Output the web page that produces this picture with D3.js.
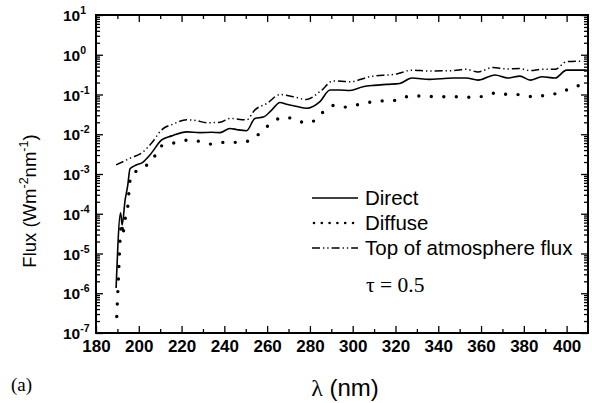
<!DOCTYPE html>
<html>
<head>
<meta charset="utf-8">
<script src="https://cdn.jsdelivr.net/npm/d3@7"></script>
<style>
  body { margin: 0; background: #fff; }
  svg { display: block; }
  .axis text { font-family: "Liberation Sans", Arial, sans-serif; font-weight: bold; fill: #000; }
  .axis path, .axis line { stroke: #000; }
</style>
</head>
<body>
<div id="chart"></div>
<script>
// wavelength (nm) / flux (W m-2 nm-1)
const directLambda = [189.4, 191.5, 192.2, 193.6, 194.8, 195.9, 198, 202, 205.2, 210.7, 215.4, 222.4, 228.6, 234, 238, 242.6, 246, 250.4, 254.3, 258.2, 262, 266, 269.1, 274, 278.5, 284.7, 289.4, 294, 298.7, 304.8, 310, 315.9, 322, 327.6, 336, 341, 347, 353, 358.6, 366.5, 372.6, 378.2, 383, 388.4, 394.6, 400, 409.4];
const directFlux = [1.35e-6, 1.05e-4, 5.2e-5, 2.2e-4, 5e-4, 1.35e-3, 1.6e-3, 2.0e-3, 3e-3, 7.2e-3, 9.1e-3, 0.0115, 0.011, 0.0112, 0.011, 0.014, 0.013, 0.0123, 0.025, 0.027, 0.04, 0.063, 0.057, 0.05, 0.045, 0.066, 0.13, 0.13, 0.126, 0.157, 0.17, 0.18, 0.19, 0.26, 0.24, 0.25, 0.26, 0.26, 0.23, 0.31, 0.26, 0.29, 0.23, 0.28, 0.26, 0.41, 0.41];

const diffuseLambda = [189.7, 190.5, 191.3, 192.0, 192.6, 193.2, 194.6, 195.6, 196.3, 201.8, 207.1, 209.9, 217.7, 224, 234.8, 241, 247.3, 252.8, 257.9, 262.9, 268.8, 274.6, 280, 285.5, 291.7, 297.2, 303.4, 309.6, 315.9, 321.3, 326.8, 333, 338.5, 344.7, 350.2, 356, 361.9, 367.6, 373.5, 379.3, 385.2, 391.2, 397, 402.9, 408];
const diffuseFlux = [2.6e-7, 2.5e-6, 2.5e-5, 6e-5, 2.8e-5, 6e-5, 1.1e-4, 4.7e-4, 9.4e-4, 1.4e-3, 2.6e-3, 4.9e-3, 6.2e-3, 7.2e-3, 5.6e-3, 6.4e-3, 6.2e-3, 7.4e-3, 0.0123, 0.021, 0.027, 0.021, 0.0195, 0.034, 0.054, 0.048, 0.057, 0.066, 0.07, 0.072, 0.092, 0.092, 0.088, 0.088, 0.088, 0.085, 0.092, 0.112, 0.098, 0.1, 0.085, 0.1, 0.108, 0.157, 0.17];

const toaLambda = [189.4, 196, 202, 206, 210.7, 216, 222.4, 227, 231.7, 238, 242.6, 250.4, 254.3, 260, 266, 272.3, 278.5, 284.7, 291, 298.7, 308, 320.6, 327.6, 336, 347, 353, 358.6, 365.6, 372, 378, 383, 388.4, 394.6, 400, 407.8];
const toaFlux = [1.7e-3, 2.5e-3, 3.6e-3, 6e-3, 0.0129, 0.018, 0.023, 0.022, 0.0195, 0.02, 0.025, 0.023, 0.041, 0.06, 0.1, 0.088, 0.075, 0.118, 0.22, 0.21, 0.28, 0.33, 0.41, 0.39, 0.4, 0.43, 0.37, 0.48, 0.44, 0.45, 0.4, 0.43, 0.43, 0.67, 0.69];

const xMajorTicks = [180, 200, 220, 240, 260, 280, 300, 320, 340, 360, 380, 400];
const yExponents = [-7, -6, -5, -4, -3, -2, -1, 0, 1];
const seriesNames = ['Direct', 'Diffuse', 'Top of atmosphere flux'];

const W = 592, H = 403;
const margin = { top: 15, right: 4, bottom: 70, left: 96 };
const width = W - margin.left - margin.right;
const height = H - margin.top - margin.bottom;

const svg = d3.select('#chart').append('svg')
    .attr('width', W)
    .attr('height', H);

const g = svg.append('g')
    .attr('transform', `translate(${margin.left},${margin.top})`);

const x = d3.scaleLinear().domain([180, 410]).range([0, width]);
const y = d3.scaleLog().domain([1e-7, 10]).range([height, 0]);

// minor ticks
const xMinor = d3.range(190, 410, 20);
const yMinor = [];
yExponents.slice(0, -1).forEach(e => {
    for (let k = 2; k <= 9; k++) yMinor.push(k * Math.pow(10, e));
});

function axisGroup(gen, transform) {
    const a = g.append('g').attr('class', 'axis');
    if (transform) a.attr('transform', transform);
    a.call(gen);
    a.select('.domain').remove();
    a.selectAll('line').attr('stroke-width', 1.3);
    return a;
}

// bottom
axisGroup(d3.axisBottom(x).tickValues(xMajorTicks).tickSizeInner(-7).tickSizeOuter(0).tickPadding(7), `translate(0,${height})`)
    .selectAll('text').style('font-size', '17px');
axisGroup(d3.axisBottom(x).tickValues(xMinor).tickSizeInner(-4).tickSizeOuter(0).tickFormat(''), `translate(0,${height})`);
// top
axisGroup(d3.axisTop(x).tickValues(xMajorTicks).tickSizeInner(-7).tickSizeOuter(0).tickFormat(''));
axisGroup(d3.axisTop(x).tickValues(xMinor).tickSizeInner(-4).tickSizeOuter(0).tickFormat(''));
// left
const yMajorVals = yExponents.map(e => Math.pow(10, e));
axisGroup(d3.axisLeft(y).tickValues(yMajorVals).tickSizeInner(-7).tickSizeOuter(0).tickFormat(''));
axisGroup(d3.axisLeft(y).tickValues(yMinor).tickSizeInner(-4).tickSizeOuter(0).tickFormat(''));
// right
axisGroup(d3.axisRight(y).tickValues(yMajorVals).tickSizeInner(-7).tickSizeOuter(0).tickFormat(''), `translate(${width},0)`);
axisGroup(d3.axisRight(y).tickValues(yMinor).tickSizeInner(-4).tickSizeOuter(0).tickFormat(''), `translate(${width},0)`);

// y labels with superscript exponent
const yLab = g.append('g').attr('class', 'axis');
yExponents.forEach(e => {
    const t = yLab.append('text')
        .attr('x', -33)
        .attr('y', y(Math.pow(10, e)) + 6)
        .style('font-size', '15.5px');
    t.append('tspan').text('10');
    t.append('tspan').attr('dy', -7).style('font-size', '10.5px').text(e);
});

// frame
g.append('rect')
    .attr('width', width)
    .attr('height', height)
    .attr('fill', 'none')
    .attr('stroke', '#000')
    .attr('stroke-width', 2);

const line = d3.line()
    .x(d => x(d[0]))
    .y(d => y(d[1]))
    .curve(d3.curveMonotoneX);

const styles = [
    { dash: null, width: 1.6, cap: 'butt', legendDash: null },
    { dash: '0 12.5', width: 3.4, cap: 'round', legendDash: '0 7.8' },
    { dash: '8 3 1.3 3 1.3 3', width: 1.5, cap: 'butt', legendDash: '8 3 1.3 3 1.3 3' }
];
const series = [
    d3.zip(directLambda, directFlux),
    d3.zip(diffuseLambda, diffuseFlux),
    d3.zip(toaLambda, toaFlux)
];

series.forEach((s, i) => {
    g.append('path')
        .datum(s)
        .attr('fill', 'none')
        .attr('stroke', '#000')
        .attr('stroke-width', styles[i].width)
        .attr('stroke-linecap', styles[i].cap)
        .attr('stroke-dasharray', styles[i].dash)
        .attr('d', line);
});

// legend
const legend = svg.append('g').attr('transform', 'translate(312, 0)');
seriesNames.forEach((name, i) => {
    const yy = 198 + i * 25;
    legend.append('line')
        .attr('x1', i === 1 ? 2 : 0)
        .attr('x2', 46)
        .attr('y1', yy)
        .attr('y2', yy)
        .attr('stroke', '#000')
        .attr('stroke-width', i === 1 ? 2.6 : 1.5)
        .attr('stroke-linecap', styles[i].cap)
        .attr('stroke-dasharray', styles[i].legendDash);
    legend.append('text')
        .attr('x', 53)
        .attr('y', yy + 7)
        .style('font-family', '"Liberation Sans", Arial, sans-serif')
        .style('font-size', '20.5px')
        .text(name);
});
legend.append('text')
    .attr('x', 54)
    .attr('y', 292)
    .style('font-family', '"Liberation Serif", "Times New Roman", serif')
    .style('font-size', '21.5px')
    .style('white-space', 'pre')
    .text('τ = 0.5');

// axis titles
svg.append('text')
    .attr('transform', `translate(36, ${margin.top + 186}) rotate(-90)`)
    .attr('text-anchor', 'middle')
    .style('font-family', '"Liberation Sans", Arial, sans-serif')
    .style('font-size', '18.5px')
    .html('Flux (Wm<tspan dy="-8" font-size="12.5">-2</tspan><tspan dy="8">nm</tspan><tspan dy="-8" font-size="12.5">-1</tspan><tspan dy="8">)</tspan>');

svg.append('text')
    .attr('x', 345)
    .attr('y', 396)
    .attr('text-anchor', 'middle')
    .style('font-family', '"Liberation Sans", Arial, sans-serif')
    .style('font-size', '24px')
    .html('<tspan font-family="Liberation Serif, serif">λ</tspan> (nm)');

svg.append('text')
    .attr('x', 11)
    .attr('y', 391)
    .style('font-family', '"Liberation Serif", "Times New Roman", serif')
    .style('font-size', '19px')
    .text('(a)');
</script>
</body>
</html>
